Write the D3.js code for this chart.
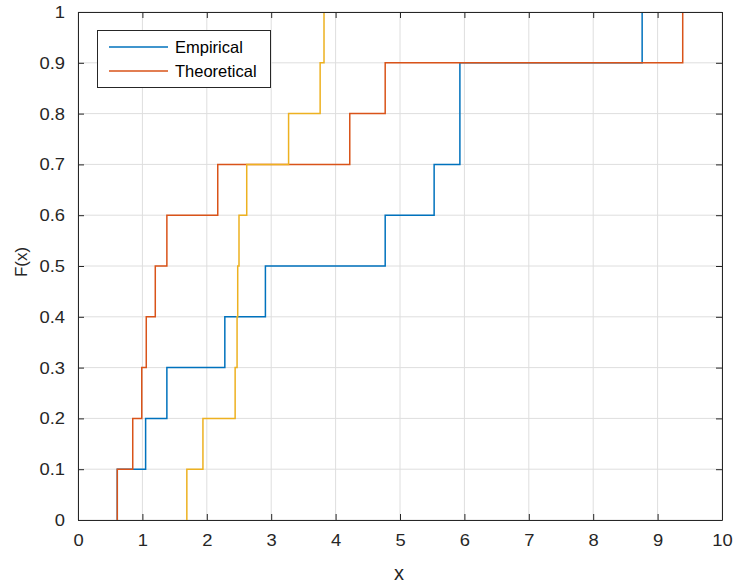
<!DOCTYPE html>
<html><head><meta charset="utf-8">
<script src="https://cdn.jsdelivr.net/npm/d3@7"></script>
<style>
html,body{margin:0;padding:0;background:#fff;}
svg text{font-family:"Liberation Sans",Arial,Helvetica,sans-serif;}
</style></head>
<body>
<svg id="chart" width="735" height="584"></svg>
<script>
// ---- data ----
const empirical   = [0.61, 1.05, 1.38, 2.28, 2.91, 4.77, 5.53, 5.93, 5.93, 8.76];
const theoretical = [0.61, 0.85, 0.99, 1.06, 1.20, 1.38, 2.17, 4.22, 4.77, 9.39];
const thirdSeries = [1.69, 1.94, 2.44, 2.47, 2.48, 2.50, 2.62, 3.27, 3.76, 3.82];
const xTicks = [0,1,2,3,4,5,6,7,8,9,10];
const yTicks = [0,0.1,0.2,0.3,0.4,0.5,0.6,0.7,0.8,0.9,1];
const legendLabels = ["Empirical", "Theoretical"];
const colors = ["#0072BD", "#D95319", "#EDB120"];

const svg = d3.select("#chart");
const L = 78, R = 722, T = 12, B = 520;
const x = d3.scaleLinear().domain([0,10]).range([L,R]);
const y = d3.scaleLinear().domain([0,1]).range([B,T]);
const axisColor = "#262626";

// grid
const g = svg.append("g");
g.selectAll(".vg").data(xTicks).join("line")
  .attr("x1", d=>x(d)).attr("x2", d=>x(d)).attr("y1", T).attr("y2", B)
  .attr("stroke", "#dedede").attr("stroke-width", 1);
g.selectAll(".hg").data(yTicks).join("line")
  .attr("x1", L).attr("x2", R).attr("y1", d=>y(d)).attr("y2", d=>y(d))
  .attr("stroke", "#dedede").attr("stroke-width", 1);

// ecdf stairs
function stairPoints(vals){
  const s = vals.slice().sort((a,b)=>a-b);
  const n = s.length;
  const pts = s.map((v,i)=>[v, i/n]);
  pts.push([s[n-1], 1]);
  return pts;
}
const line = d3.line().x(d=>x(d[0])).y(d=>y(d[1])).curve(d3.curveStepBefore);
[empirical, theoretical, thirdSeries].forEach((ser,i)=>{
  svg.append("path").attr("d", line(stairPoints(ser)))
    .attr("fill","none").attr("stroke", colors[i]).attr("stroke-width", 1.5);
});

// axes (box with inward ticks on all sides)
const tk = 6;
const axB = svg.append("g").attr("transform", `translate(0,${B})`)
  .call(d3.axisBottom(x).tickValues(xTicks).tickSizeInner(-tk).tickSizeOuter(0).tickPadding(14).tickFormat(d3.format("d")));
const axT = svg.append("g").attr("transform", `translate(0,${T})`)
  .call(d3.axisTop(x).tickValues(xTicks).tickSizeInner(-tk).tickSizeOuter(0).tickFormat(""));
const axL = svg.append("g").attr("transform", `translate(${L},0)`)
  .call(d3.axisLeft(y).tickValues(yTicks).tickSizeInner(-tk).tickSizeOuter(0).tickPadding(13).tickFormat(d=>d3.format("")(+d.toFixed(1))));
const axR = svg.append("g").attr("transform", `translate(${R},0)`)
  .call(d3.axisRight(y).tickValues(yTicks).tickSizeInner(-tk).tickSizeOuter(0).tickFormat(""));
[axB,axT,axL,axR].forEach(a=>{
  a.select(".domain").attr("stroke", axisColor).attr("stroke-width",1);
  a.selectAll(".tick line").attr("stroke", axisColor).attr("stroke-width",1);
  a.selectAll("text").attr("fill", axisColor).style("font-size","17px")
    .style("font-family",'"Liberation Sans",Arial,sans-serif');
});
// slightly widen tick labels like the reference rendering
[axB, axL].forEach(a=>{
  a.selectAll(".tick text").each(function(){
    const len = this.getComputedTextLength();
    d3.select(this).attr("textLength", len*1.08).attr("lengthAdjust","spacingAndGlyphs");
  });
});

// axis labels
svg.append("text").attr("x", 399).attr("y", 580).attr("text-anchor","middle")
  .attr("fill", axisColor).style("font-size","20px").text("x");
svg.append("text").attr("transform", "translate(27,262) rotate(-90)").attr("text-anchor","middle")
  .attr("fill", axisColor).style("font-size","17px").text("F(x)");

// legend
const lg = svg.append("g");
lg.append("rect").attr("x", 97.5).attr("y", 30.5).attr("width", 173).attr("height", 57)
  .attr("fill","#fff").attr("stroke", axisColor).attr("stroke-width",1);
legendLabels.forEach((lab,i)=>{
  const yy = 47 + i*24;
  lg.append("line").attr("x1",109).attr("x2",168).attr("y1",yy).attr("y2",yy)
    .attr("stroke", colors[i]).attr("stroke-width",1.5);
  lg.append("text").attr("x",175).attr("y",yy+5.5).attr("fill","#000")
    .style("font-size","16.5px").text(lab);
});
</script>
</body></html>
